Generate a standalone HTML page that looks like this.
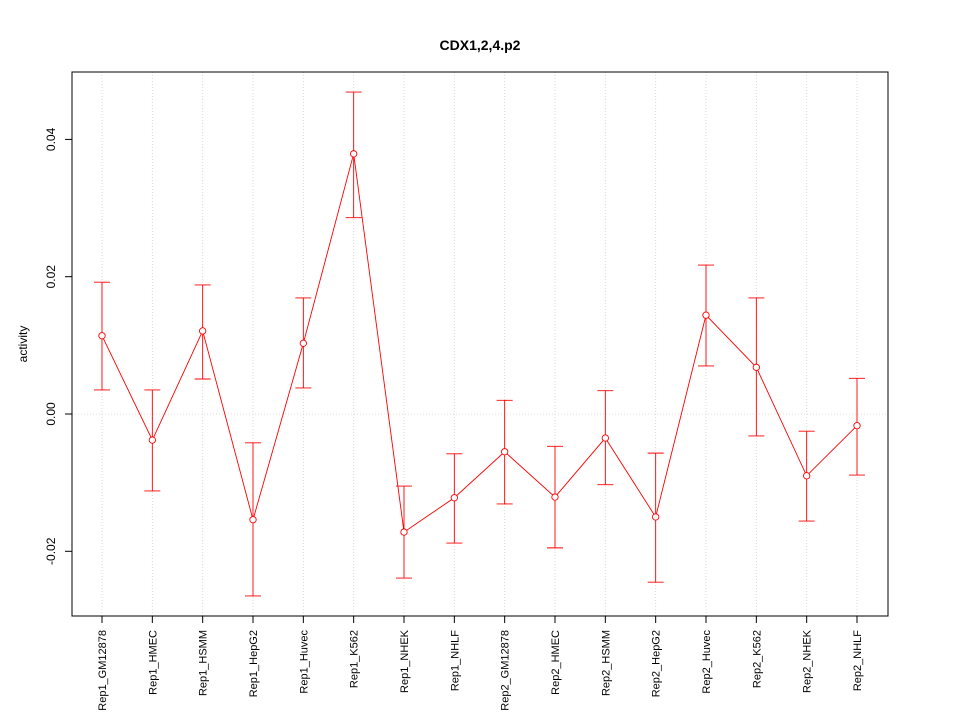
<!DOCTYPE html>
<html><head><meta charset="utf-8"><style>
body{margin:0;background:#fff;}
svg{display:block;font-family:"Liberation Sans",sans-serif;}
</style></head><body>
<svg id="chart" width="960" height="720" xmlns="http://www.w3.org/2000/svg">
<text x="480" y="50" text-anchor="middle" font-size="14" font-weight="bold">CDX1,2,4.p2</text>
<text x="0" y="0" transform="translate(27,344) rotate(-90)" text-anchor="middle" font-size="12">activity</text>
<g id="grid"></g><g id="axes"></g><g id="marks"></g>
<rect x="72" y="72" width="816" height="544" fill="none" stroke="#000"/>
</svg>
<script>
const categories = ["Rep1_GM12878","Rep1_HMEC","Rep1_HSMM","Rep1_HepG2","Rep1_Huvec","Rep1_K562","Rep1_NHEK","Rep1_NHLF","Rep2_GM12878","Rep2_HMEC","Rep2_HSMM","Rep2_HepG2","Rep2_Huvec","Rep2_K562","Rep2_NHEK","Rep2_NHLF"];
const values = [0.0114,-0.0038,0.0121,-0.0154,0.0103,0.0379,-0.0172,-0.0122,-0.0055,-0.0121,-0.0035,-0.0150,0.0144,0.0068,-0.0090,-0.0017];
const upper = [0.0192,0.0035,0.0188,-0.0042,0.0169,0.0469,-0.0105,-0.0058,0.0020,-0.0047,0.0034,-0.0057,0.0217,0.0169,-0.0025,0.0052];
const lower = [0.0035,-0.0112,0.0051,-0.0265,0.0038,0.0286,-0.0239,-0.0188,-0.0131,-0.0195,-0.0103,-0.0245,0.0070,-0.0032,-0.0156,-0.0089];
const yTicks = [-0.02,0.00,0.02,0.04];
const yTickLabels = ["-0.02","0.00","0.02","0.04"];

const NS="http://www.w3.org/2000/svg";
function xs(i){return 102+i*(857-102)/(categories.length-1);}
function ys(v){return 414-v*6865;}
function mk(tag,attrs,parent){const e=document.createElementNS(NS,tag);for(const k in attrs)e.setAttribute(k,attrs[k]);document.getElementById(parent).appendChild(e);return e;}

categories.forEach((c,i)=>{
  const g=mk('line',{x1:xs(i),x2:xs(i),y1:72,y2:616,stroke:'#d3d3d3','stroke-width':0.8,'stroke-dasharray':'1,2'},'grid');
  
  
  const t=mk('line',{x1:xs(i),x2:xs(i),y1:616,y2:623,stroke:'#000'},'axes');
  
  
  const l=mk('text',{x:0,y:0,transform:`translate(${xs(i)+4},630) rotate(-90)`,'text-anchor':'end','font-size':'11'},'axes');
  l.textContent=c;
  
  
});
const z=mk('line',{x1:72,x2:888,y1:ys(0),y2:ys(0),stroke:'#d3d3d3','stroke-width':0.8,'stroke-dasharray':'1,2'},'grid');


yTicks.forEach((v,i)=>{
  const t=mk('line',{x1:65,x2:72,y1:ys(v),y2:ys(v),stroke:'#000'},'axes');
  
  
  const l=mk('text',{x:0,y:0,transform:`translate(55,${ys(v)}) rotate(-90)`,'text-anchor':'middle','font-size':'12'},'axes');
  l.textContent=yTickLabels[i];
  
  
});
const pts=values.map((v,i)=>xs(i)+','+ys(v)).join(' ');
const line=mk('polyline',{points:pts,fill:'none',stroke:'#f00','stroke-width':0.9},'marks');


values.forEach((v,i)=>{
  const x=xs(i);
  const e=mk('path',{d:`M${x},${ys(upper[i])}V${ys(lower[i])}M${x-8},${ys(upper[i])}H${x+8}M${x-8},${ys(lower[i])}H${x+8}`,stroke:'#f00','stroke-width':0.9,fill:'none'},'marks');
  
  
  const c=mk('circle',{cx:x,cy:ys(v),r:3.2,fill:'#fff',stroke:'#f00','stroke-width':0.9},'marks');
  
  
});
</script>
</body></html>
